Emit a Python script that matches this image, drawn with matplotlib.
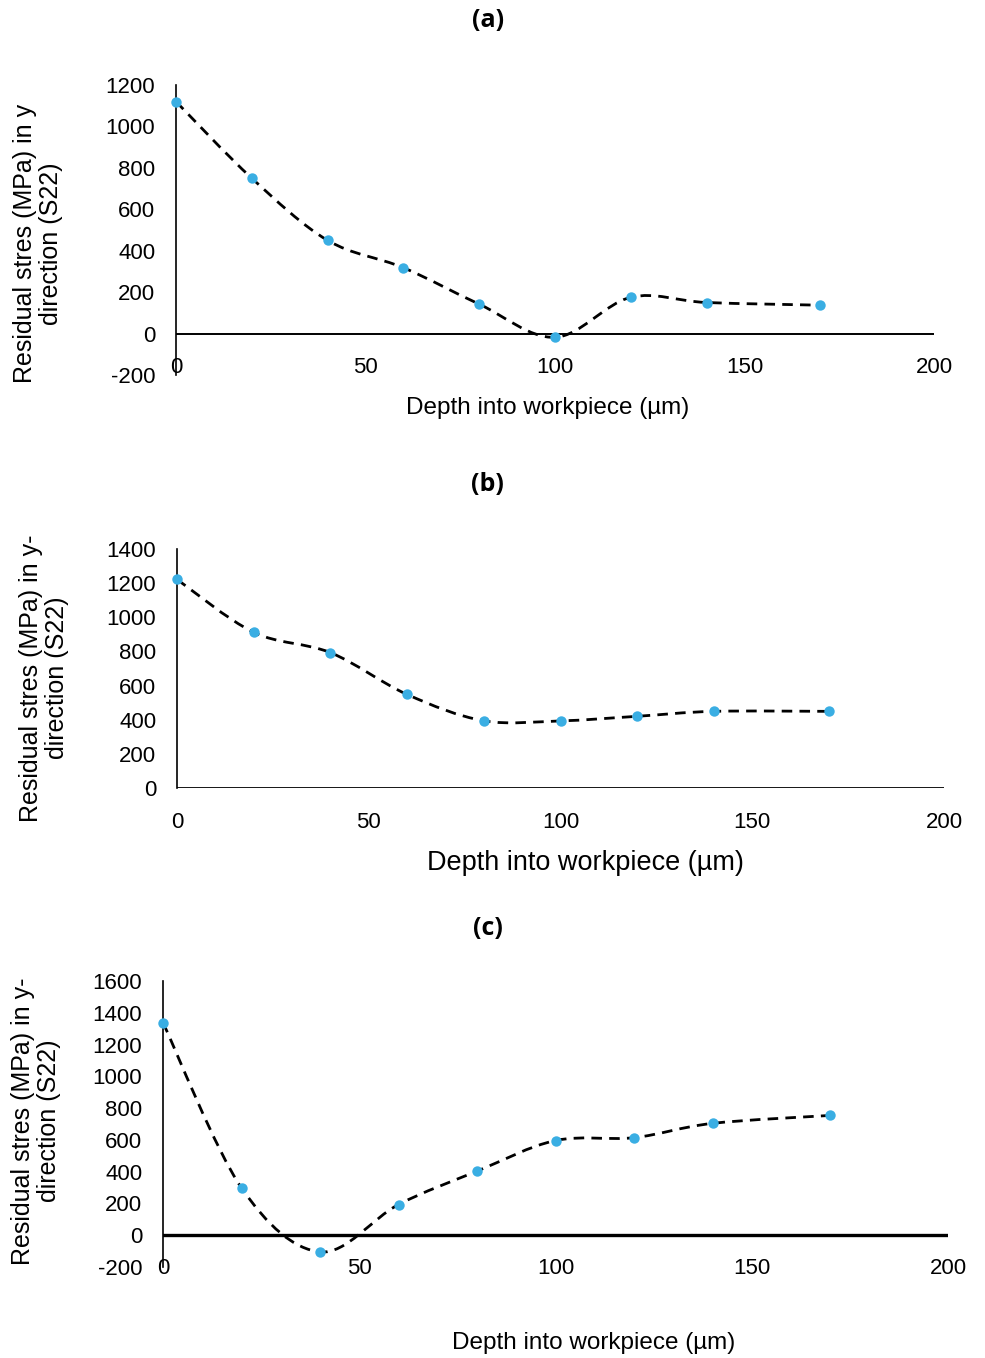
import numpy as np
import matplotlib
matplotlib.use("Agg")
import matplotlib.pyplot as plt
from matplotlib.path import Path
from matplotlib.patches import PathPatch

plt.rcParams['font.family'] = ['Liberation Sans', 'DejaVu Sans']
plt.rcParams['axes.unicode_minus'] = False

# Depth into workpiece (µm)
depth = [0, 20, 40, 60, 80, 100, 120, 140, 170]

# Residual stress S22 (MPa) for the three cases
stress_a = [1120, 750, 450, 318, 142, -18, 175, 150, 137]
stress_b = [1222, 912, 793, 548, 394, 393, 420, 449, 449]
stress_c = [1338, 298, -105, 193, 403, 596, 614, 704, 754]

titles = ['(a)', '(b)', '(c)']
ylabels = ['Residual stres (MPa) in y\ndirection (S22)',
           'Residual stres (MPa) in y-\ndirection (S22)',
           'Residual stres (MPa) in y-\ndirection (S22)']
xlabel = 'Depth into workpiece (µm)'

xticks = [0, 50, 100, 150, 200]
yticks_a = [-200, 0, 200, 400, 600, 800, 1000, 1200]
yticks_b = [0, 200, 400, 600, 800, 1000, 1200, 1400]
yticks_c = [-200, 0, 200, 400, 600, 800, 1000, 1200, 1400, 1600]

MARKER = '#3AAEE3'
W, H = 985, 1358
fig = plt.figure(figsize=(W / 100, H / 100), dpi=100)


def add_axes_px(left, right, top, bottom):
    return fig.add_axes([left / W, 1 - bottom / H, (right - left) / W, (bottom - top) / H])


def smooth_path(x, y):
    """Cubic Bezier path through the points (Excel-style smoothed line)."""
    p = np.column_stack([x, y]).astype(float)
    n = len(p)
    verts = [p[0]]
    codes = [Path.MOVETO]
    for i in range(n - 1):
        p0 = p[i - 1] if i > 0 else p[i]
        p1 = p[i]
        p2 = p[i + 1]
        p3 = p[i + 2] if i + 2 < n else p[i + 1]
        c1 = p1 + (p2 - p0) / 6.0
        c2 = p2 - (p3 - p1) / 6.0
        verts += [c1, c2, p2]
        codes += [Path.CURVE4] * 3
    return Path(verts, codes)


panels = [
    dict(y=stress_a, yticks=yticks_a, box=(176, 934, 85, 375), zero_lw=1.4,
         xpad=-13, ylab_xy=(-0.182, 0.452), xlab_xy=(0.49, -0.114), xlab_fs=17.5,
         title_xy=(0.412, 1.224)),
    dict(y=stress_b, yticks=yticks_b, box=(177, 944, 549, 788), zero_lw=2.0,
         xpad=17, ylab_xy=(-0.173, 0.46), xlab_xy=(0.532, -0.314), xlab_fs=19.5,
         title_xy=(0.405, 1.268)),
    dict(y=stress_c, yticks=yticks_c, box=(163, 948, 981, 1267), zero_lw=2.4,
         xpad=-6.5, ylab_xy=(-0.162, 0.51), xlab_xy=(0.549, -0.266), xlab_fs=17.5,
         title_xy=(0.414, 1.185)),
]

for k, pnl in enumerate(panels):
    ax = add_axes_px(*pnl['box'])
    yt = pnl['yticks']
    ax.set_xlim(0, 200)
    ax.set_ylim(yt[0], yt[-1])
    ax.set_xticks(xticks)
    ax.set_yticks(yt)

    for s in ('top', 'right', 'bottom'):
        ax.spines[s].set_visible(False)
    ax.spines['left'].set_linewidth(1.2)
    ax.spines['left'].set_color('black')
    ax.axhline(0, color='black', lw=pnl['zero_lw'], zorder=1.5)

    ax.tick_params(axis='both', length=0, labelsize=16)
    ax.tick_params(axis='y', pad=15)
    ax.tick_params(axis='x', pad=pnl['xpad'])

    patch = PathPatch(smooth_path(depth, pnl['y']), fill=False, edgecolor='black',
                      lw=2.0, linestyle=(0, (3.8, 2.6)), capstyle='butt', zorder=2)
    ax.add_patch(patch)
    ax.plot(depth, pnl['y'], linestyle='none', marker='o', ms=7.5,
            color=MARKER, markeredgewidth=0, zorder=3, clip_on=False)

    ax.set_ylabel(ylabels[k], fontsize=18, linespacing=1.1)
    ax.yaxis.label.set_verticalalignment('center')
    ax.yaxis.set_label_coords(*pnl['ylab_xy'])

    ax.set_xlabel(xlabel, fontsize=pnl['xlab_fs'])
    ax.xaxis.label.set_verticalalignment('center')
    ax.xaxis.set_label_coords(*pnl['xlab_xy'])

    ax.set_title(titles[k], fontsize=18, fontweight='bold', family=['Open Sans', 'DejaVu Sans'],
                 x=pnl['title_xy'][0], y=pnl['title_xy'][1], va='center', pad=0)

fig.savefig('out.png', dpi=100, facecolor='white')
